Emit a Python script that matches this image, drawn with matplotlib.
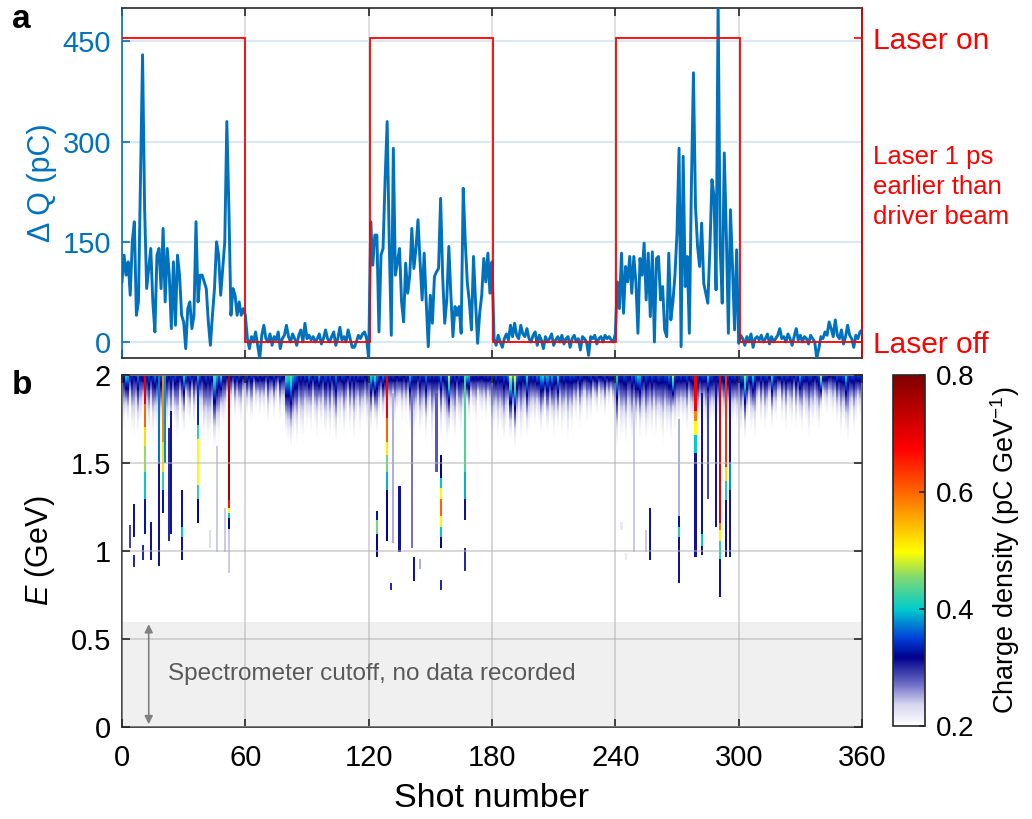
import numpy as np
import matplotlib
matplotlib.use('Agg')
import matplotlib.pyplot as plt
from matplotlib.colors import LinearSegmentedColormap

plt.rcParams['font.family'] = ['Liberation Sans', 'DejaVu Sans']
plt.rcParams['mathtext.fontset'] = 'custom'
plt.rcParams['mathtext.rm'] = 'Liberation Sans'
plt.rcParams['mathtext.it'] = 'Liberation Sans:italic'

# charge difference per shot (pC), shots 0..360
dq_on1 = [90, 130, 100, 120, 70, 150, 180, 40, 60, 250, 430, 200, 80, 110, 140, 60, 15, 130, 140, 80,
          170, 60, 140, 100, 20, 120, 25, 130, 100, 40, 30, -10, 50, 60, 20, 40, 180, 60, 100, 100,
          90, 80, 30, -5, 40, 80, 150, 130, 70, 110, 150, 330, 200, 40, 80, 70, 40, 60, 40, 50, 40]
dq_off1 = [5, -10, 8, 0, 15, -5, -25, 10, 25, 5, 0, 12, -5, 8, 3, 15, -10, 5, 10, 25,
           8, 0, 12, 5, -5, 10, 18, 0, 28, 5, 10, 3, 8, 0, 5, 12, -3, 5, 18, 5,
           0, 8, 15, -5, 5, 22, 3, 8, 0, 18, 5, -8, -8, 0, 10, 5, 12, 15, 5, -25]
dq_on2 = [180, 115, 160, 160, 15, 130, 140, 243, 330, 150, 10, 290, 100, 120, 140, 60, 30, 118, 73, 100,
          170, 110, 140, 183, 120, 63, 133, 60, -7, 70, 28, 98, 105, 110, 215, 98, 28, 63, 143, 70,
          8, 53, 40, 53, 13, 230, 150, 88, 60, 18, 128, 60, -2, 43, 70, 125, 90, 133, 73, 120]
dq_off2 = [5, -5, 10, 0, -8, 5, 12, 3, 25, 8, 28, 10, 5, 25, 12, 8, 20, 5, 0, 10,
           15, -5, 10, 3, -10, 8, 0, 5, 12, -5, 3, 8, 0, 10, -3, 5, 8, -8, 5, 10,
           0, 5, -12, 8, 5, 0, -20, 8, 5, 10, -3, 5, 8, 0, 10, 5, 8, 3, 0, 12]
dq_on3 = [90, 50, 133, 43, 113, 90, 128, 73, 128, 90, 13, 125, 100, 148, 63, 133, 38, 135, 0, 125,
          128, 63, 83, 18, 8, 133, 33, 60, 100, 163, 290, -7, 278, 83, 128, 13, 233, 403, 203, 143,
          113, 178, 88, 73, 58, 140, 243, 218, 78, 510, 143, 58, 283, 160, 13, 198, 113, 18, 138, -2]
dq_off3 = [10, 5, -5, 8, 0, 12, -8, 5, 8, 3, 10, 0, 5, 12, -3, 8, 0, 5, 10, 20,
           5, 8, 0, 12, 5, -5, 8, 20, 3, 10, 0, 8, 5, -3, 10, 5, 0, -25, -10, 8,
           5, 15, 10, 30, 20, 8, 33, 10, 5, 18, -3, 8, 25, 10, 5, -8, 10, 5, 15, 18]
dq = dq_on1 + dq_off1 + dq_on2 + dq_off2 + dq_on3 + dq_off3
shots = np.arange(len(dq))

# laser on/off blocks
laser_edges = [0, 60, 120.5, 180.5, 240.5, 300.5, 360]
laser_state = [1, 0, 1, 0, 1, 0]

# spectrum background near 2 GeV: density at top and energy where the tail vanishes
band_top = [0.36, 0.34, 0.42, 0.40, 0.33, 0.35, 0.32, 0.34, 0.38, 0.33, 0.35, 0.70, 0.34, 0.36, 0.33, 0.35, 0.38, 0.34, 0.37, 0.36,
            0.58, 0.40, 0.34, 0.33, 0.35, 0.32, 0.36, 0.34, 0.33, 0.35, 0.42, 0.38, 0.34, 0.36, 0.33, 0.35, 0.34, 0.40, 0.36, 0.33,
            0.34, 0.36, 0.33, 0.35, 0.34, 0.45, 0.40, 0.36, 0.42, 0.34, 0.35, 0.33, 0.76, 0.34, 0.32, 0.35, 0.33, 0.36, 0.34, 0.33,
            0.34, 0.36, 0.33, 0.35, 0.32, 0.34, 0.36, 0.33, 0.35, 0.34, 0.32, 0.35, 0.33, 0.34, 0.36, 0.33, 0.32, 0.35, 0.34, 0.33,
            0.44, 0.42, 0.46, 0.40, 0.38, 0.36, 0.34, 0.35, 0.33, 0.36, 0.34, 0.38, 0.35, 0.33, 0.36, 0.34, 0.40, 0.35, 0.33, 0.36,
            0.34, 0.36, 0.33, 0.35, 0.38, 0.34, 0.33, 0.36, 0.35, 0.34, 0.33, 0.36, 0.34, 0.35, 0.33, 0.36, 0.34, 0.35, 0.33, 0.34,
            0.38, 0.42, 0.40, 0.44, 0.38, 0.36, 0.34, 0.38, 0.36, 0.68, 0.35, 0.34, 0.36, 0.34, 0.33, 0.35, 0.34, 0.33, 0.35, 0.34,
            0.40, 0.36, 0.34, 0.35, 0.33, 0.36, 0.34, 0.35, 0.38, 0.34, 0.36, 0.33, 0.35, 0.34, 0.36, 0.38, 0.34, 0.35, 0.36, 0.50,
            0.36, 0.34, 0.35, 0.33, 0.36, 0.34, 0.35, 0.44, 0.42, 0.40, 0.35, 0.34, 0.33, 0.36, 0.34, 0.33, 0.35, 0.34, 0.36, 0.34,
            0.36, 0.34, 0.36, 0.33, 0.35, 0.34, 0.36, 0.35, 0.38, 0.50, 0.40, 0.52, 0.38, 0.36, 0.35, 0.34, 0.36, 0.42, 0.35, 0.34,
            0.36, 0.34, 0.38, 0.36, 0.40, 0.42, 0.38, 0.40, 0.36, 0.40, 0.35, 0.36, 0.42, 0.35, 0.34, 0.36, 0.35, 0.34, 0.36, 0.35,
            0.36, 0.35, 0.34, 0.36, 0.35, 0.34, 0.33, 0.35, 0.36, 0.34, 0.35, 0.36, 0.34, 0.33, 0.35, 0.36, 0.34, 0.35, 0.36, 0.34,
            0.36, 0.42, 0.35, 0.34, 0.36, 0.35, 0.34, 0.33, 0.36, 0.35, 0.38, 0.42, 0.40, 0.35, 0.34, 0.36, 0.35, 0.34, 0.36, 0.35,
            0.34, 0.36, 0.35, 0.34, 0.36, 0.35, 0.38, 0.36, 0.50, 0.36, 0.35, 0.34, 0.36, 0.34, 0.35, 0.36, 0.34, 0.35, 0.36, 0.68,
            0.36, 0.34, 0.35, 0.36, 0.34, 0.42, 0.35, 0.36, 0.34, 0.33, 0.35, 0.70, 0.34, 0.35, 0.64, 0.36, 0.34, 0.35, 0.36, 0.34,
            0.35, 0.36, 0.38, 0.48, 0.40, 0.36, 0.35, 0.42, 0.36, 0.34, 0.35, 0.36, 0.34, 0.35, 0.36, 0.34, 0.42, 0.36, 0.35, 0.34,
            0.35, 0.36, 0.34, 0.35, 0.36, 0.34, 0.35, 0.33, 0.36, 0.34, 0.40, 0.35, 0.36, 0.34, 0.35, 0.36, 0.34, 0.33, 0.35, 0.36,
            0.50, 0.36, 0.35, 0.34, 0.33, 0.32, 0.33, 0.34, 0.36, 0.35, 0.34, 0.36, 0.42, 0.35, 0.34, 0.36, 0.35, 0.34, 0.36, 0.35,
            0.34]
band_end = [1.72, 1.68, 1.75, 1.70, 1.80, 1.66, 1.62, 1.74, 1.64, 1.70, 1.78, 1.60, 1.72, 1.65, 1.76, 1.62, 1.70, 1.68, 1.58, 1.66,
            1.62, 1.70, 1.64, 1.72, 1.60, 1.75, 1.68, 1.62, 1.80, 1.70, 1.66, 1.84, 1.74, 1.70, 1.82, 1.68, 1.78, 1.64, 1.76, 1.72,
            1.60, 1.66, 1.58, 1.62, 1.70, 1.56, 1.64, 1.60, 1.74, 1.68, 1.72, 1.80, 1.66, 1.78, 1.84, 1.72, 1.80, 1.76, 1.70, 1.82,
            1.84, 1.76, 1.80, 1.72, 1.86, 1.78, 1.82, 1.74, 1.80, 1.76, 1.84, 1.70, 1.78, 1.82, 1.74, 1.80, 1.86, 1.72, 1.78, 1.76,
            1.64, 1.60, 1.56, 1.62, 1.66, 1.58, 1.70, 1.64, 1.60, 1.74, 1.68, 1.72, 1.66, 1.78, 1.70, 1.62, 1.76, 1.68, 1.74, 1.64,
            1.70, 1.62, 1.74, 1.66, 1.58, 1.72, 1.68, 1.76, 1.62, 1.70, 1.80, 1.66, 1.74, 1.60, 1.70, 1.78, 1.64, 1.72, 1.76, 1.68,
            1.72, 1.66, 1.78, 1.70, 1.64, 1.74, 1.80, 1.72, 1.76, 1.70, 1.78, 1.74, 1.82, 1.70, 1.76, 1.80, 1.72, 1.78, 1.74, 1.80,
            1.66, 1.72, 1.62, 1.70, 1.76, 1.64, 1.68, 1.74, 1.60, 1.72, 1.78, 1.56, 1.70, 1.66, 1.80, 1.62, 1.74, 1.68, 1.58, 1.64,
            1.72, 1.66, 1.60, 1.76, 1.70, 1.64, 1.74, 1.68, 1.80, 1.72, 1.82, 1.76, 1.70, 1.84, 1.78, 1.74, 1.80, 1.72, 1.82, 1.76,
            1.54, 1.66, 1.72, 1.60, 1.70, 1.64, 1.58, 1.68, 1.74, 1.62, 1.70, 1.56, 1.66, 1.72, 1.60, 1.68, 1.74, 1.62, 1.66, 1.70,
            1.74, 1.68, 1.76, 1.70, 1.64, 1.72, 1.78, 1.66, 1.74, 1.70, 1.62, 1.72, 1.68, 1.76, 1.64, 1.70, 1.74, 1.60, 1.72, 1.66,
            1.78, 1.72, 1.80, 1.68, 1.76, 1.82, 1.70, 1.78, 1.74, 1.84, 1.80, 1.76, 1.86, 1.78, 1.82, 1.74, 1.84, 1.80, 1.86, 1.78,
            1.70, 1.56, 1.74, 1.62, 1.68, 1.58, 1.72, 1.66, 1.60, 1.70, 1.64, 1.74, 1.62, 1.68, 1.72, 1.60, 1.66, 1.70, 1.64, 1.74,
            1.62, 1.70, 1.66, 1.58, 1.72, 1.64, 1.68, 1.60, 1.74, 1.66, 1.72, 1.68, 1.76, 1.70, 1.74, 1.66, 1.78, 1.72, 1.70, 1.76,
            1.68, 1.74, 1.70, 1.76, 1.66, 1.72, 1.68, 1.74, 1.70, 1.76, 1.72, 1.68, 1.74, 1.70, 1.66, 1.72, 1.76, 1.70, 1.74, 1.68,
            1.70, 1.64, 1.74, 1.60, 1.72, 1.78, 1.66, 1.70, 1.62, 1.76, 1.82, 1.70, 1.78, 1.66, 1.74, 1.80, 1.68, 1.76, 1.72, 1.82,
            1.84, 1.72, 1.78, 1.66, 1.80, 1.74, 1.70, 1.82, 1.68, 1.76, 1.72, 1.64, 1.78, 1.70, 1.62, 1.74, 1.68, 1.76, 1.72, 1.66,
            1.78, 1.84, 1.80, 1.76, 1.82, 1.78, 1.74, 1.80, 1.70, 1.76, 1.62, 1.72, 1.66, 1.58, 1.70, 1.76, 1.64, 1.72, 1.80, 1.74,
            1.76]

# accelerated-charge streaks: (shot, E low, E high, charge density)
streaks = [
    (11, 1.84, 2.0, 0.70), (11, 1.71, 1.84, 0.60), (11, 1.60, 1.71, 0.52), (11, 1.45, 1.60, 0.46), (11, 1.30, 1.45, 0.40), (11, 1.10, 1.30, 0.33),
    (18, 1.50, 2.0, 0.37), (18, 0.92, 1.50, 0.31),
    (20, 1.62, 2.0, 0.58), (20, 1.45, 1.62, 0.52), (20, 1.35, 1.45, 0.42), (20, 1.22, 1.35, 0.33), (21, 1.50, 2.0, 0.38),
    (23, 1.06, 1.70, 0.30), (24, 1.10, 1.80, 0.31),
    (29, 0.95, 1.35, 0.31), (29, 1.08, 1.14, 0.40),
    (37, 1.72, 2.0, 0.34), (37, 1.64, 1.72, 0.42), (37, 1.38, 1.64, 0.50), (37, 1.30, 1.38, 0.42), (37, 1.16, 1.30, 0.32),
    (52, 1.29, 2.0, 0.76), (52, 1.25, 1.29, 0.66), (52, 1.22, 1.25, 0.50), (52, 1.19, 1.22, 0.40), (52, 1.13, 1.19, 0.32), (52, 0.88, 1.13, 0.24),
    (6, 1.08, 1.27, 0.31), (6, 0.91, 0.98, 0.30), (4, 1.02, 1.15, 0.29), (10, 0.95, 1.04, 0.30), (14, 0.95, 1.17, 0.31),
    (43, 1.02, 1.12, 0.23), (46, 1.00, 1.60, 0.24), (50, 1.00, 1.25, 0.24),
    (129, 1.76, 2.0, 0.68), (129, 1.62, 1.76, 0.60), (129, 1.55, 1.62, 0.51), (129, 1.45, 1.55, 0.45), (129, 1.35, 1.45, 0.39), (129, 1.06, 1.35, 0.32),
    (124, 0.97, 1.10, 0.32), (124, 1.10, 1.18, 0.45), (124, 1.18, 1.23, 0.33), (131, 0.78, 0.82, 0.30),
    (132, 1.05, 1.90, 0.25), (135, 1.00, 1.37, 0.31), (141, 1.02, 1.90, 0.27), (142, 0.83, 0.97, 0.31), (145, 0.90, 0.96, 0.25),
    (153, 1.45, 1.90, 0.28),
    (155, 1.42, 1.55, 0.32), (155, 1.36, 1.42, 0.40), (155, 1.30, 1.36, 0.50), (155, 1.20, 1.30, 0.60), (155, 1.14, 1.20, 0.50),
    (155, 1.08, 1.14, 0.40), (155, 1.02, 1.08, 0.32), (155, 0.78, 0.84, 0.30),
    (167, 1.45, 2.0, 0.43), (167, 1.30, 1.45, 0.39), (167, 1.18, 1.30, 0.31), (167, 0.89, 1.02, 0.30),
    (279, 1.80, 2.0, 0.68), (279, 1.74, 1.80, 0.58), (279, 1.66, 1.74, 0.50), (279, 1.56, 1.66, 0.40), (279, 0.97, 1.56, 0.31),
    (282, 1.10, 1.90, 0.31), (282, 1.03, 1.10, 0.40), (282, 0.98, 1.03, 0.31), (285, 1.30, 1.90, 0.29),
    (289, 1.14, 2.0, 0.31),
    (291, 1.16, 2.0, 0.70), (291, 1.12, 1.16, 0.58), (291, 1.06, 1.12, 0.50), (291, 0.96, 1.06, 0.42), (291, 0.74, 0.96, 0.31),
    (294, 1.48, 2.0, 0.64), (294, 1.40, 1.48, 0.52), (294, 1.29, 1.40, 0.41), (294, 0.97, 1.29, 0.31),
    (296, 0.97, 2.0, 0.31), (296, 1.35, 1.50, 0.38),
    (271, 1.20, 1.75, 0.25), (271, 1.14, 1.20, 0.33), (271, 1.08, 1.14, 0.42), (271, 0.82, 1.08, 0.31),
    (257, 0.95, 1.25, 0.31), (249, 1.00, 1.85, 0.24), (255, 1.00, 1.12, 0.24), (243, 1.12, 1.17, 0.22), (245, 0.95, 0.99, 0.22),
]

# white -> navy -> jet colormap used for charge density
cmap = LinearSegmentedColormap.from_list('wjet', [
    (0.0, (1, 1, 1)), (0.06, (0.84, 0.84, 0.94)), (0.12, (0.42, 0.42, 0.78)), (0.195, (0, 0, 0.55)),
    (0.25, (0, 0.25, 0.85)), (0.333, (0, 0.8, 0.8)), (0.423, (0.5, 0.85, 0.45)), (0.495, (1, 1, 0)),
    (0.595, (1, 0.65, 0)), (0.68, (1, 0.35, 0)), (0.79, (1, 0, 0)), (1.0, (0.5, 0, 0))], N=512)

E = np.arange(0.6, 2.0001, 0.005)
Z = np.zeros((len(E), len(band_top)))
for i in range(len(band_top)):
    frac = np.clip((E - band_end[i]) / (2.0 - band_end[i]), 0, None)
    Z[:, i] = np.where(frac > 0, 0.2 + (band_top[i] - 0.2) * frac ** 1.8, 0)
for s, lo, hi, lev in streaks:
    m = (E >= lo) & (E <= hi)
    Z[m, s] = np.maximum(Z[m, s], lev)

blue = (0, 0.447, 0.741)
W, H = 1032, 819
fig = plt.figure(figsize=(W / 100, H / 100), dpi=100)

# ---- panel a ----
ax1 = fig.add_axes([122 / W, 1 - 358 / H, 740 / W, 350 / H])
ax1.plot(shots, dq, color=blue, lw=2.1, zorder=3)
ax1.set_xlim(0, 360)
ax1.set_ylim(-24, 500)
ax1.set_xticks(range(0, 361, 60))
ax1.set_yticks([0, 150, 300, 450])
ax1.grid(axis='y', color=(0.85, 0.91, 0.96), lw=1.5)
ax1.grid(axis='x', color=(0.85, 0.85, 0.85), lw=1.2)
ax1.tick_params(axis='x', direction='in', top=True, labelbottom=False, length=6, width=1.2, color='0.15')
ax1.tick_params(axis='y', direction='in', colors=blue, labelsize=21, length=6, width=1.2, pad=8)
ax1.spines['left'].set_color(blue)
for sp in ['top', 'bottom']:
    ax1.spines[sp].set_color('0.15')
for sp in ax1.spines.values():
    sp.set_linewidth(1.2)
ax1.set_ylabel('Δ Q (pC)', color=blue, fontsize=22, labelpad=4)

ax2 = ax1.twinx()
ax2.stairs(laser_state, laser_edges, color='red', lw=1.3, baseline=None)
ax2.set_ylim(-0.053, 1.099)
ax2.set_yticks([0, 1])
ax2.set_yticklabels(['Laser off', 'Laser on'])
ax2.tick_params(axis='y', direction='in', colors='red', labelsize=21.5, length=6, width=1.2, pad=8)
ax2.spines['right'].set_color('red')
ax2.spines['right'].set_linewidth(1.2)
for sp in ['left', 'top', 'bottom']:
    ax2.spines[sp].set_visible(False)
fig.text(873 / W, 1 - 187 / H, 'Laser 1 ps\nearlier than\ndriver beam', color='red',
         fontsize=18.5, ha='left', va='center', linespacing=1.32)

# ---- panel b ----
ax3 = fig.add_axes([122 / W, 1 - 727 / H, 740 / W, 352 / H])
ax3.axhspan(0, 0.6, color=(0.94, 0.94, 0.94), lw=0, zorder=0)
im = ax3.imshow(Z, extent=(-0.5, len(band_top) - 0.5, 0.6 - 0.0025, 2.0025), origin='lower',
                aspect='auto', cmap=cmap, vmin=0.2, vmax=0.8, interpolation='nearest', zorder=1)
ax3.set_xlim(0, 360)
ax3.set_ylim(0, 2)
ax3.set_xticks(range(0, 361, 60))
ax3.set_yticks([0, 0.5, 1, 1.5, 2])
ax3.set_yticklabels(['0', '0.5', '1', '1.5', '2'])
ax3.set_axisbelow(False)
ax3.grid(color=(0.7, 0.7, 0.7), lw=1.2, alpha=0.6, zorder=2)
ax3.tick_params(direction='in', top=True, right=True, labelsize=21, length=6, width=1.2, color='0.15', pad=8)
ax3.tick_params(axis='x', pad=12)
for sp in ax3.spines.values():
    sp.set_color('0.15')
    sp.set_linewidth(1.2)
ax3.set_xlabel('Shot number', fontsize=24.5, labelpad=8)
ax3.set_ylabel('$E$ (GeV)', fontsize=22, labelpad=10)
ax3.annotate('', xy=(13, 0.0), xytext=(13, 0.6),
             arrowprops=dict(arrowstyle='<|-|>', color='0.5', lw=1.2, mutation_scale=12), zorder=3)
ax3.text(22.5, 0.3, 'Spectrometer cutoff, no data recorded', color='0.35', fontsize=17.5,
         ha='left', va='center', zorder=3)

cax = fig.add_axes([893 / W, 1 - 726 / H, 32 / W, 351 / H])
cb = fig.colorbar(im, cax=cax, ticks=[0.2, 0.4, 0.6, 0.8])
cb.ax.tick_params(labelsize=20, direction='in', length=4, width=1.2, color='0.15', pad=8)
cb.outline.set_linewidth(1.2)
cb.outline.set_edgecolor('0.15')
cb.set_label('Charge density (pC GeV$^{-1}$)', fontsize=19.5, labelpad=10)

fig.text(12 / W, 1 - 20 / H, 'a', fontsize=24, fontweight='bold', va='center')
fig.text(12 / W, 1 - 385 / H, 'b', fontsize=24, fontweight='bold', va='center')

fig.savefig('out.png', dpi=100)
